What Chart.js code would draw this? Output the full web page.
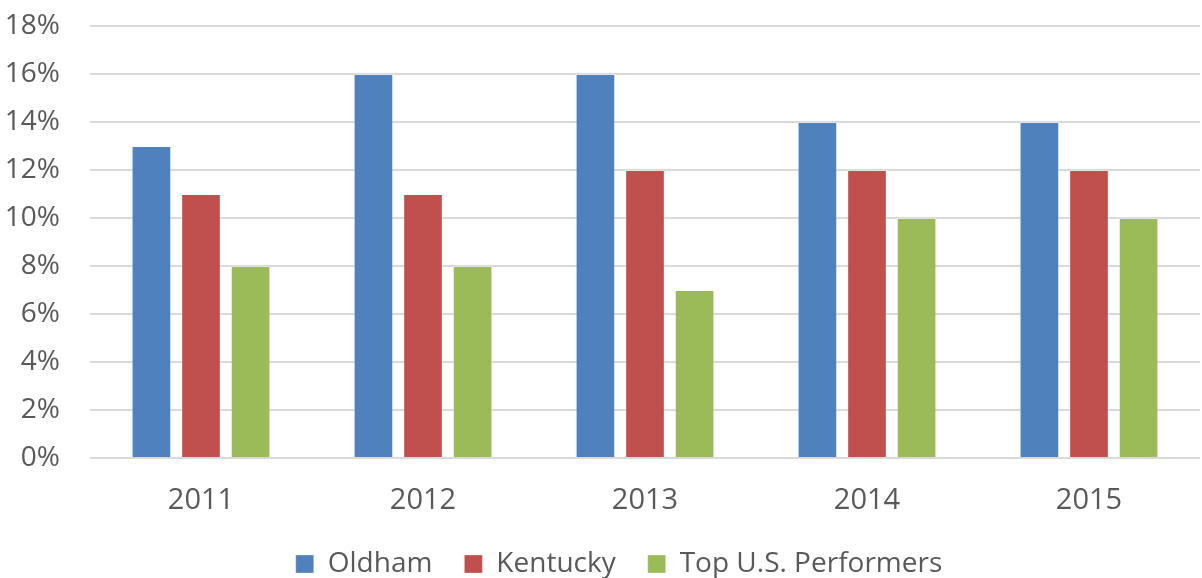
<!DOCTYPE html>
<html>
<head>
<meta charset="utf-8">
<script src="https://cdn.jsdelivr.net/npm/chart.js@4/dist/chart.umd.min.js"></script>
<style>
  html,body{margin:0;padding:0;background:#fff;}
  #wrap{width:1202px;height:578px;position:relative;}
</style>
</head>
<body>
<div id="wrap"><canvas id="c"></canvas></div>
<script>
'use strict';

/* ── data ── */
const years=['2011','2012','2013','2014','2015'];
const oldham=[13,16,16,14,14];
const kentucky=[11,11,12,12,12];
const topUS=[8,8,7,10,10];
const yTicks=[0,2,4,6,8,10,12,14,16,18];

const FONT='"Open Sans", sans-serif';
const GREY='#595959';

function ds(label,data,color){
  return {label,data,backgroundColor:color,borderColor:'rgba(255,255,255,0.3)',borderWidth:1,
    categoryPercentage:0.67,barPercentage:0.8};
}

// legend sits a bit right/down in the original; x labels must not be clipped
const tweak={
  id:'tweak',
  afterLayout(chart){
    const l=chart.legend;
    if(l){l.left+=16;l.right+=16;l.top+=10;l.bottom+=10;}
    chart.scales.x.bottom+=24;
  }
};

new Chart(document.getElementById('c'),{
  type:'bar',
  data:{
    labels:years,
    datasets:[
      ds('Oldham',oldham,'#4F81BD'),
      ds('Kentucky',kentucky,'#C0504D'),
      ds('Top U.S. Performers',topUS,'#9BBB59')
    ]
  },
  plugins:[tweak],
  options:{
    responsive:true,maintainAspectRatio:false,animation:false,
    layout:{padding:{top:0,right:2,left:6,bottom:0}},
    plugins:{
      tooltip:{enabled:false},
      legend:{
        position:'bottom',
        labels:{color:GREY,boxWidth:18,boxHeight:18,padding:32,
          font:{family:FONT,size:28}}
      }
    },
    scales:{
      x:{
        grid:{display:false},border:{display:false},
        ticks:{color:GREY,padding:17,font:{family:FONT,size:29}},
        afterFit(s){s.height=50;}
      },
      y:{
        min:0,max:18,
        afterBuildTicks(ax){ax.ticks=yTicks.map(v=>({value:v}));},
        afterFit(s){s.width=84;s.paddingTop=26;s.paddingBottom=0;},
        grid:{color:'#d9d9d9',lineWidth:2,drawTicks:false},
        border:{display:false},
        ticks:{color:GREY,padding:30,font:{family:FONT,size:28,lineHeight:1},callback:v=>v+'%'}
      }
    }
  }
});
</script>
</body>
</html>
